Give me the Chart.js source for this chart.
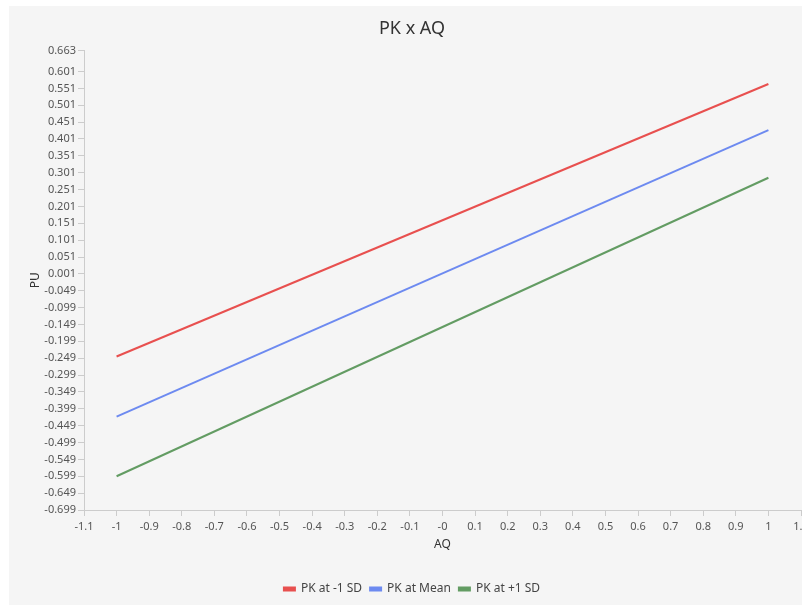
<!DOCTYPE html>
<html lang="en">
<head>
    <meta charset="UTF-8">
    <title>PK x AQ</title>
    <script src="https://cdn.jsdelivr.net/npm/chart.js@4.4.0/dist/chart.umd.min.js"></script>
    <style>
        body{
            margin: 0;
            background: #fff;
        }
        .panel{
            position: absolute;
            left: 9px;
            top: 6px;
            width: 793px;
            height: 599px;
            background: #f5f5f5;
            overflow: hidden;
        }
    </style>
</head>
<body>
    <div class="panel">
        <canvas id="canvas" width="806" height="599"></canvas>
    </div>

<script>
    // data
    var aqValues = [-1, 1];
    var pkLow = [-0.244, 0.564];
    var pkMean = [-0.422, 0.427];
    var pkHigh = [-0.599, 0.286];

    var xTickValues = [-1.1, -1, -0.9, -0.8, -0.7, -0.6, -0.5, -0.4, -0.3, -0.2, -0.1, 0,
        0.1, 0.2, 0.3, 0.4, 0.5, 0.6, 0.7, 0.8, 0.9, 1, 1.1];
    var xTickLabels = ['-1.1', '-1', '-0.9', '-0.8', '-0.7', '-0.6', '-0.5', '-0.4', '-0.3', '-0.2', '-0.1', '-0',
        '0.1', '0.2', '0.3', '0.4', '0.5', '0.6', '0.7', '0.8', '0.9', '1', '1.1'];
    var yTickValues = [-0.699, -0.649, -0.599, -0.549, -0.499, -0.449, -0.399, -0.349, -0.299, -0.249,
        -0.199, -0.149, -0.099, -0.049, 0.001, 0.051, 0.101, 0.151, 0.201, 0.251, 0.301, 0.351,
        0.401, 0.451, 0.501, 0.551, 0.601, 0.663];

    function points(ys){
        return aqValues.map(function(x, i){
            return {x: x, y: ys[i]};
        });
    }

    Chart.defaults.font.family = "'Noto Sans', 'Open Sans', sans-serif";

    var ctx = document.getElementById('canvas').getContext('2d');
    var myChart = new Chart(ctx, {
        type: 'line',
        data: {
            datasets: [{
                label: 'PK at -1 SD',
                data: points(pkLow),
                borderColor: '#e8504f',
                backgroundColor: '#e8504f'
            }, {
                label: 'PK at Mean',
                data: points(pkMean),
                borderColor: '#6d8af0',
                backgroundColor: '#6d8af0'
            }, {
                label: 'PK at +1 SD',
                data: points(pkHigh),
                borderColor: '#639c63',
                backgroundColor: '#639c63'
            }]
        },
        options: {
            responsive: false,
            animation: false,
            elements: {
                point: { radius: 0 },
                line: { borderWidth: 2 }
            },
            // canvas is a bit wider than the panel so the last x label gets cut like the original
            layout: {
                padding: { left: 14, right: 14, top: 0, bottom: 0 }
            },
            plugins: {
                title: {
                    display: true,
                    text: 'PK x AQ',
                    color: '#333',
                    font: { size: 18, weight: 'normal' },
                    padding: { top: 12, bottom: 11 }
                },
                legend: {
                    position: 'bottom',
                    labels: {
                        color: '#444',
                        font: { size: 12 },
                        boxWidth: 11,
                        boxHeight: 3,
                        padding: 8
                    }
                },
                tooltip: { enabled: false }
            },
            scales: {
                x: {
                    type: 'linear',
                    min: -1.1,
                    max: 1.1,
                    afterBuildTicks: function(scale){
                        scale.ticks = xTickValues.map(function(v){ return {value: v}; });
                    },
                    afterFit: function(scale){
                        scale.paddingRight = 0;
                        scale.height = 65;
                    },
                    ticks: {
                        autoSkip: false,
                        maxRotation: 0,
                        color: '#555',
                        font: { size: 11 },
                        padding: 4,
                        callback: function(value, index){
                            return xTickLabels[index];
                        }
                    },
                    grid: {
                        drawOnChartArea: false,
                        tickLength: 6,
                        color: '#ccc'
                    },
                    border: { color: '#ccc' },
                    title: {
                        display: true,
                        text: 'AQ',
                        color: '#333',
                        font: { size: 12 },
                        padding: { top: 4, bottom: 23 }
                    }
                },
                y: {
                    min: -0.699,
                    max: 0.663,
                    afterBuildTicks: function(scale){
                        scale.ticks = yTickValues.map(function(v){ return {value: v}; });
                    },
                    afterFit: function(scale){
                        scale.width = 61;
                    },
                    ticks: {
                        autoSkip: false,
                        color: '#555',
                        font: { size: 11 },
                        padding: 2,
                        callback: function(value){
                            return value.toFixed(3);
                        }
                    },
                    grid: {
                        drawOnChartArea: false,
                        tickLength: 6,
                        color: '#ccc'
                    },
                    border: { color: '#ccc' },
                    title: {
                        display: true,
                        text: 'PU',
                        color: '#333',
                        font: { size: 12 },
                        padding: { top: 5, bottom: 4 }
                    }
                }
            }
        }
    });
</script>
</body>
</html>
